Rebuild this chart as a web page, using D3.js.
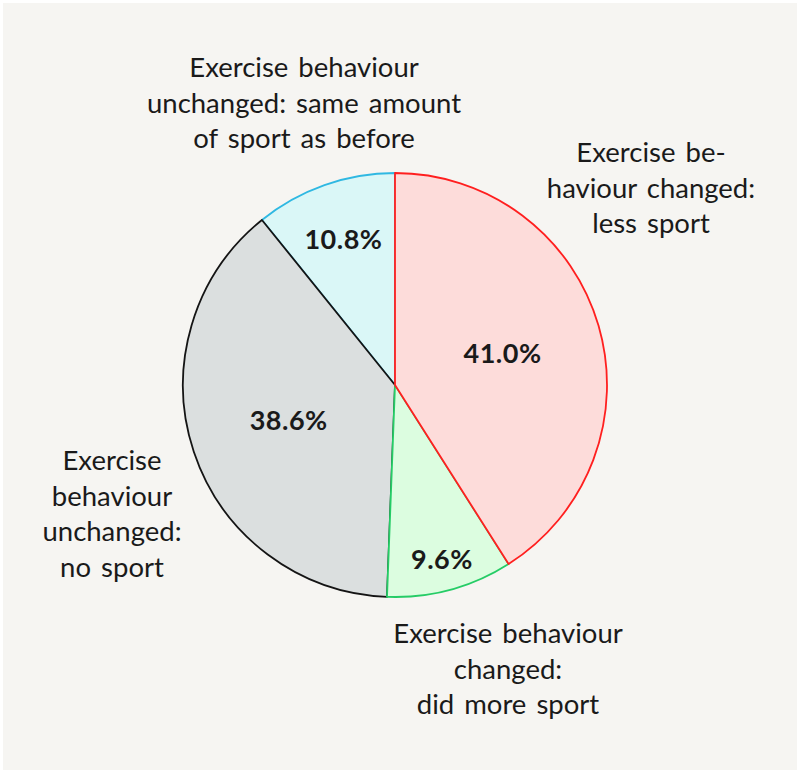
<!DOCTYPE html>
<html>
<head>
<meta charset="utf-8">
<script src="https://cdn.jsdelivr.net/npm/d3@7"></script>
<style>
  body { margin: 0; background: #ffffff; }
  svg { display: block; }
</style>
</head>
<body>
<div id="root"></div>
<script>
const width = 800;
const height = 773;

// slice data, clockwise from 12 o'clock
const categories = ['less', 'more', 'none', 'same'];
const values = [41.0, 9.6, 38.6, 10.8];
const valueLabels = ['41.0%', '9.6%', '38.6%', '10.8%'];
const labelLines = [
    ['Exercise be-', 'haviour changed:', 'less sport'],
    ['Exercise behaviour', 'changed:', 'did more sport'],
    ['Exercise', 'behaviour', 'unchanged:', 'no sport'],
    ['Exercise behaviour', 'unchanged: same amount', 'of sport as before']
];

const fills = ['#fddcda', '#dcfde0', '#dbdfdf', '#daf7f7'];
const strokes = ['#ff1f1f', '#25cc66', '#141414', '#2fb8e2'];
// draw order so the shared edges get the right colour
const drawOrder = [3, 2, 1, 0];
// where the percentages sit (distance from centre)
const pctRadius = [112, 180, 112, 155];
// outer label anchors [x, first baseline]
const labelPos = [[651, 162], [508, 643], [112, 470], [304, 77]];
const lineGap = 35.5;

const cx = 395, cy = 385, radius = 212;

const svg = d3.select('#root')
    .append('svg')
    .attr('width', width)
    .attr('height', height);

svg.append('rect')
    .attr('x', 3).attr('y', 3)
    .attr('width', width - 6).attr('height', height - 6)
    .attr('fill', '#f6f5f2');

const pie = d3.pie().sort(null).value(d => d)(values);
const arc = d3.arc().innerRadius(0).outerRadius(radius);

const g = svg.append('g').attr('transform', `translate(${cx},${cy})`);

g.selectAll('path')
    .data(drawOrder.map(i => pie[i]))
    .join('path')
    .attr('d', arc)
    .attr('fill', d => fills[d.index])
    .attr('stroke', d => strokes[d.index])
    .attr('stroke-width', 1.8)
    .attr('stroke-linejoin', 'round');

// percentages
g.selectAll('text.pct')
    .data(pie)
    .join('text')
    .attr('class', 'pct')
    .attr('transform', d => {
        const c = d3.arc().innerRadius(pctRadius[d.index]).outerRadius(pctRadius[d.index]).centroid(d);
        return `translate(${c[0]},${c[1]})`;
    })
    .attr('text-anchor', 'middle')
    .attr('dy', '0.36em')
    .style('font-family', 'Lato, "Open Sans", sans-serif')
    .style('font-weight', 'bold')
    .style('font-size', '27px')
    .style('letter-spacing', '0.5px')
    .style('fill', '#1a1a1a')
    .text(d => valueLabels[d.index]);

// category labels
svg.selectAll('text.lab')
    .data(categories)
    .join('text')
    .attr('class', 'lab')
    .attr('text-anchor', 'middle')
    .style('font-family', 'Lato, "Open Sans", sans-serif')
    .style('font-size', '27.5px')
    .style('word-spacing', '3px')
    .style('fill', '#1a1a1a')
    .each(function (d, i) {
        d3.select(this).selectAll('tspan')
            .data(labelLines[i])
            .join('tspan')
            .attr('x', labelPos[i][0])
            .attr('y', (t, j) => labelPos[i][1] + j * lineGap)
            .text(t => t);
    });
</script>
</body>
</html>
